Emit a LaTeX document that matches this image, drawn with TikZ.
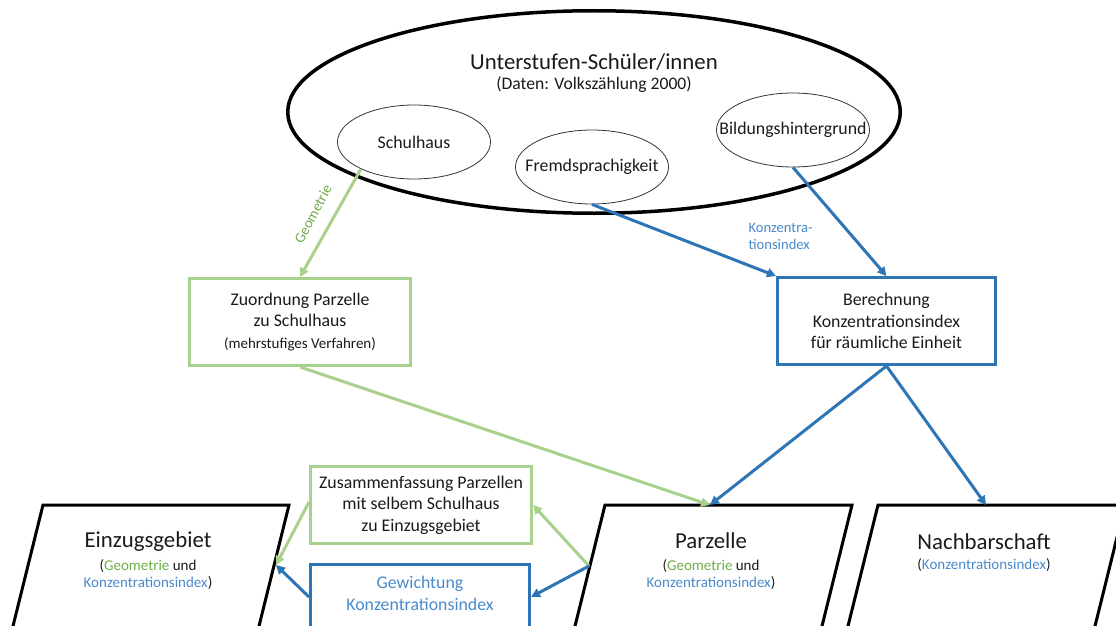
\documentclass[tikz,border=0pt]{standalone}
\usepackage{fontspec}
\setmainfont{Carlito}
\usetikzlibrary{arrows.meta,shapes.geometric}
\definecolor{grn}{HTML}{A9D18E}
\definecolor{blu}{HTML}{2E75B6}
\definecolor{grntxt}{HTML}{70AD47}
\definecolor{blutxt}{HTML}{4A8ACB}
\definecolor{txt}{HTML}{1A1A1A}
\begin{document}
\begin{tikzpicture}[x=1pt,y=-1pt,
  bigf/.style={font=\fontsize{22.8}{26}\selectfont, text=txt},
  midf/.style={font=\fontsize{17.8}{21.5}\selectfont, text=txt, align=center},
  smallf/.style={font=\fontsize{15}{17}\selectfont, text=txt, align=center},
  popell/.style={draw=black, line width=3.5pt, ellipse, inner sep=0pt},
  subell/.style={draw=black!80, line width=0.8pt, ellipse, inner sep=0pt, minimum width=153pt, minimum height=74pt},
  gbox/.style={draw=grn, line width=3pt, rectangle, inner sep=0pt},
  bbox/.style={draw=blu, line width=3pt, rectangle, inner sep=0pt},
  para/.style={draw=black, line width=3pt, line join=miter},
  garr/.style={draw=grn, line width=3pt, -{Triangle[length=9pt,width=9pt]}},
  barr/.style={draw=blu, line width=3pt, -{Triangle[length=9pt,width=9pt]}}
]
\useasboundingbox (0,0) rectangle (1116,626);
\clip (0,0) rectangle (1116,626);

% population ellipse
\node[popell, minimum width=612.5pt, minimum height=202.5pt] (pop) at (594,112) {};
\node[bigf] (title) at (594,62) {Unterstufen-Schüler/innen};
\node[font=\fontsize{17.6}{20}\selectfont, text=txt] (data) at (594,85) {(Daten: Volkszählung 2000)};

\node[subell, label={[midf]center:Schulhaus}] (schul) at (414,142) {};
\node[subell, label={[midf]center:Fremdsprachigkeit}] (fremd) at (592,167) {};
\node[subell, label={[midf]center:Bildungshintergrund}] (bild) at (793,130) {};

% process boxes
\node[gbox, midf, minimum width=221pt, minimum height=87pt] (zuo) at (300,322)
  {Zuordnung Parzelle\\zu Schulhaus\\{\fontsize{15}{17}\selectfont(mehrstufiges Verfahren)}};
\node[bbox, midf, minimum width=218pt, minimum height=87pt] (ber) at (886.5,321)
  {Berechnung\\Konzentrationsindex\\für räumliche Einheit};
\node[gbox, midf, minimum width=221pt, minimum height=77pt] (zus) at (421,505)
  {Zusammenfassung Parzellen\\mit selbem Schulhaus\\zu Einzugsgebiet};
\node[bbox, minimum width=219pt, minimum height=76pt] (gew) at (420,602) {};
\node[midf, text=blutxt] (gewtext) at (420,593.5) {Gewichtung\\Konzentrationsindex};

% parallelograms (cut by the lower edge)
\draw[para] (43,505) -- (289,505) -- (250.6,660) -- (4.6,660) -- cycle;
\draw[para] (605,505) -- (852,505) -- (813.6,660) -- (566.6,660) -- cycle;
\draw[para] (878,505) -- (1125,505) -- (1086.6,660) -- (839.6,660) -- cycle;

\node[bigf] (ein) at (148,542) {Einzugsgebiet};
\node[smallf] (einsub) at (148,574.5) {(\textcolor{grntxt}{Geometrie} und\\\textcolor{blutxt}{Konzentrationsindex})};
\node[bigf] (par) at (711,541) {Parzelle};
\node[smallf] (parsub) at (711,574.5) {(\textcolor{grntxt}{Geometrie} und\\\textcolor{blutxt}{Konzentrationsindex})};
\node[bigf] (nach) at (984,542) {Nachbarschaft};
\node[smallf] (nachsub) at (984,565) {(\textcolor{blutxt}{Konzentrationsindex})};

\coordinate (parTop) at (710,505);
\coordinate (nachTop) at (986,505);
\coordinate (parL) at (589,566);
\coordinate (einR) at (276,565);

% connectors
\draw[garr] (schul.207) -- (zuo.north);
\draw[barr] (fremd.south) -- (ber.north west);
\draw[barr] (bild.south) -- (ber.north);
\draw[garr] (zuo.south) -- (parTop);
\draw[barr] (ber.south) -- (parTop);
\draw[barr] (ber.south) -- (nachTop);
\draw[garr] (parL) -- (zus.east);
\draw[barr] (parL) -- ([yshift=5pt]gew.east);
\draw[garr] ([yshift=3pt]zus.west) -- (einR);
\draw[barr] ([yshift=5pt]gew.west) -- (einR);

% connector labels
\node[font=\fontsize{14.6}{16}\selectfont, text=grntxt, rotate=62] (geo) at (313,214) {Geometrie};
\node[font=\fontsize{14.6}{17}\selectfont, text=blutxt, align=left, anchor=west] (konz) at (745,236.5) {Konzentra-\\tionsindex};
\end{tikzpicture}
\end{document}
